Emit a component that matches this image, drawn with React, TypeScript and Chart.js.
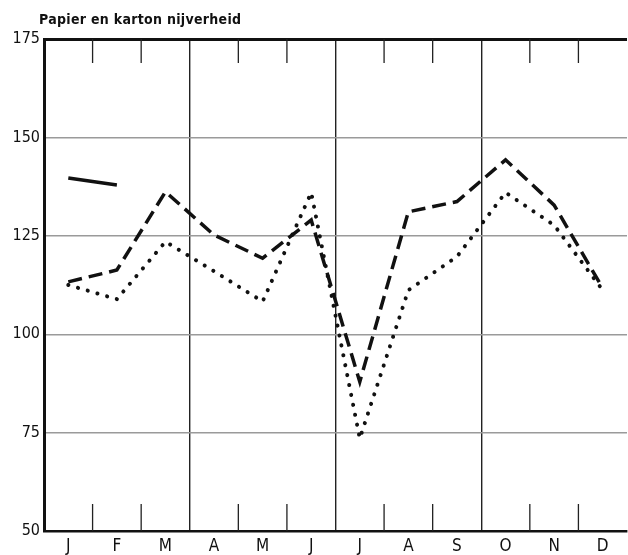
import React, { useEffect, useRef } from 'react';
import { Chart, registerables } from 'chart.js';

Chart.register(...registerables);

const chartTitle = 'Papier en karton nijverheid';
const months = ['J', 'F', 'M', 'A', 'M', 'J', 'J', 'A', 'S', 'O', 'N', 'D'];
const yTickValues = [50, 75, 100, 125, 150, 175];
const solidSeries: (number | null)[] = [139.7, 137.9, null, null, null, null, null, null, null, null, null, null];
const dashedSeries = [113.3, 116.3, 136.2, 125.2, 119.3, 129, 87.9, 131.1, 133.7, 144.3, 132.8, 111.7];
const dottedSeries = [112.5, 108.9, 123.5, 116, 108.3, 136, 73.5, 111.2, 119.7, 136, 127.7, 111.2];

const FONT = '"DejaVu Sans Condensed", "DejaVu Sans", sans-serif';

const decorPlugin = {
  id: 'decor',
  beforeDatasetsDraw(chart: any) {
    const { ctx, chartArea, scales } = chart;
    const x = scales.x;
    ctx.save();
    ctx.strokeStyle = '#222';
    ctx.lineWidth = 1.3;
    for (let i = 1; i < months.length; i++) {
      if (i % 3 === 0) continue;
      const px = (x.getPixelForValue(i - 1) + x.getPixelForValue(i)) / 2;
      ctx.beginPath();
      ctx.moveTo(px, chartArea.top);
      ctx.lineTo(px, chartArea.top + 24);
      ctx.moveTo(px, chartArea.bottom - 27);
      ctx.lineTo(px, chartArea.bottom);
      ctx.stroke();
    }
    ctx.restore();
  },
  afterDraw(chart: any) {
    const { ctx, chartArea } = chart;
    ctx.save();
    ctx.fillStyle = '#111';
    ctx.font = `bold 14px ${FONT}`;
    (ctx as any).letterSpacing = '0.3px';
    ctx.textAlign = 'left';
    ctx.textBaseline = 'alphabetic';
    ctx.fillText(chartTitle, chartArea.left - 5, 24);
    ctx.restore();
  },
};

export default function App() {
  const ref = useRef<HTMLCanvasElement | null>(null);

  useEffect(() => {
    if (!ref.current) return;
    const chart = new Chart(ref.current, {
      type: 'line',
      data: {
        labels: months,
        datasets: [
          {
            data: solidSeries,
            borderColor: '#111',
            borderWidth: 3.5,
            pointRadius: 0,
            spanGaps: false,
          },
          {
            data: dashedSeries,
            borderColor: '#111',
            borderWidth: 3.5,
            borderDash: [14, 7],
            pointRadius: 0,
          },
          {
            data: dottedSeries,
            borderColor: '#111',
            borderWidth: 4,
            borderDash: [0.1, 10],
            borderCapStyle: 'round',
            pointRadius: 0,
          },
        ],
      },
      options: {
        animation: false,
        responsive: true,
        maintainAspectRatio: false,
        layout: { padding: { top: 39, left: 0, right: 1, bottom: 0 } },
        plugins: {
          legend: { display: false },
          title: { display: false },
          tooltip: { enabled: false },
        },
        scales: {
          x: {
            type: 'category',
            offset: true,
            afterFit: (s: any) => {
              s.height = 24;
            },
            grid: {
              offset: true,
              drawTicks: false,
              color: (c: any) => (c.index % 3 === 0 ? '#222' : 'rgba(0,0,0,0)'),
              lineWidth: 1.4,
            },
            border: { display: true, color: '#111', width: 2.5 },
            ticks: {
              color: '#111',
              padding: 5,
              font: { family: FONT, size: 17 },
              autoSkip: false,
              maxRotation: 0,
            },
          },
          y: {
            min: 50,
            max: 175,
            afterFit: (s: any) => {
              s.width = 44;
            },
            afterBuildTicks: (s: any) => {
              s.ticks = yTickValues.map((v) => ({ value: v }));
            },
            grid: {
              drawTicks: false,
              color: (c: any) => {
                const v = c.tick && c.tick.value;
                if (v === 175) return '#111';
                if (v === 50) return 'rgba(0,0,0,0)';
                return '#9a9a9a';
              },
              lineWidth: (c: any) => (c.tick && c.tick.value === 175 ? 3 : 1.4),
            },
            border: { display: true, color: '#111', width: 3 },
            ticks: {
              color: '#111',
              padding: 4,
              font: { family: FONT, size: 16 },
            },
          },
        },
      },
      plugins: [decorPlugin],
    });
    return () => chart.destroy();
  }, []);

  return (
    <div style={{ position: 'absolute', left: 0, top: 0, width: 628, height: 555, background: '#fff' }}>
      <canvas ref={ref} />
    </div>
  );
}
